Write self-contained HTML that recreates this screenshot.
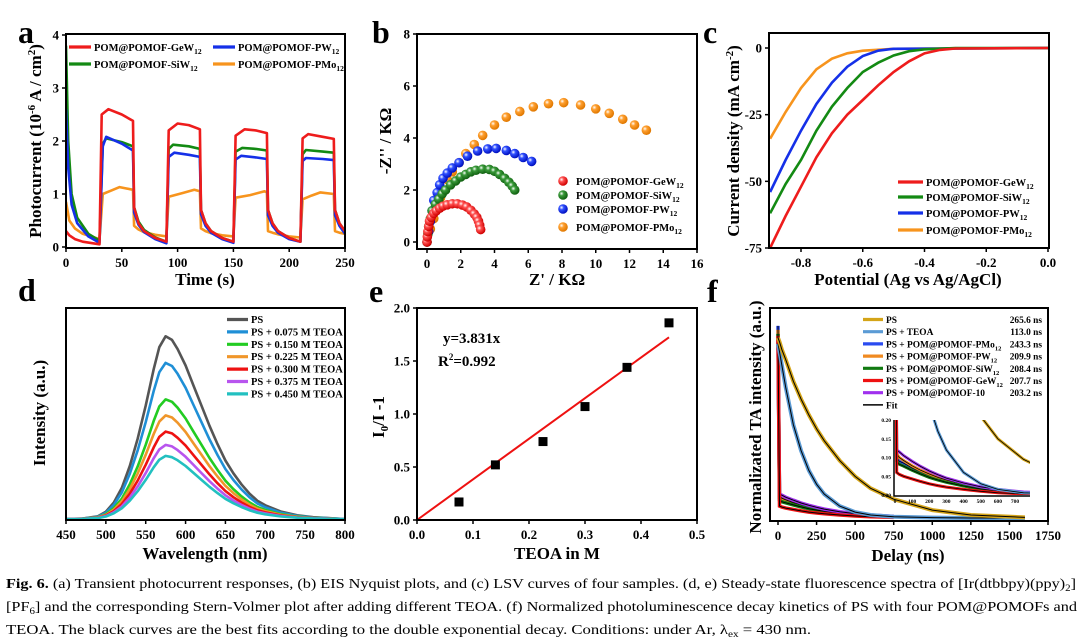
<!DOCTYPE html>
<html><head><meta charset="utf-8">
<style>
html,body{margin:0;padding:0;background:#fff;}
svg{display:block;font-family:"Liberation Serif",serif;}
.tk{font-size:13px;font-weight:bold;}
.tt{font-size:17px;font-weight:bold;}
.lg{font-size:10.5px;font-weight:bold;}
.lf{font-size:9.4px;font-weight:bold;}
.pl{font-size:32px;font-weight:bold;}
.cap{font-size:13.4px;}
</style></head>
<body>
<svg id="fig" width="1080" height="642" viewBox="0 0 1080 642" xmlns="http://www.w3.org/2000/svg">
<defs>
<radialGradient id="gr" cx="35%" cy="35%" r="65%"><stop offset="0" stop-color="#fff"/><stop offset="0.35" stop-color="#ff5050"/><stop offset="1" stop-color="#d00000"/></radialGradient>
<radialGradient id="gg" cx="35%" cy="35%" r="65%"><stop offset="0" stop-color="#fff"/><stop offset="0.35" stop-color="#3a9a3a"/><stop offset="1" stop-color="#106010"/></radialGradient>
<radialGradient id="gb" cx="35%" cy="35%" r="65%"><stop offset="0" stop-color="#fff"/><stop offset="0.35" stop-color="#3050ff"/><stop offset="1" stop-color="#0010c0"/></radialGradient>
<radialGradient id="go" cx="35%" cy="35%" r="65%"><stop offset="0" stop-color="#fff"/><stop offset="0.35" stop-color="#ffa030"/><stop offset="1" stop-color="#e07800"/></radialGradient>
<clipPath id="clipA"><rect x="66" y="34" width="279" height="214"/></clipPath>
<clipPath id="clipC"><rect x="769" y="33" width="280" height="215"/></clipPath>
<clipPath id="clipF"><rect x="770" y="308" width="278" height="213"/></clipPath>
<clipPath id="clipI"><rect x="894" y="420" width="136" height="75"/></clipPath>
</defs>
<g id="root"></g>
<g>
<text class="cap" x="6" y="588" textLength="1070" lengthAdjust="spacingAndGlyphs"><tspan font-weight="bold">Fig. 6.</tspan>  (a) Transient photocurrent responses, (b) EIS Nyquist plots, and (c) LSV curves of four samples. (d, e) Steady-state fluorescence spectra of [Ir(dtbbpy)(ppy)<tspan font-size="9" dy="3">2</tspan><tspan dy="-3">]</tspan></text>
<text class="cap" x="6" y="611" textLength="1071" lengthAdjust="spacingAndGlyphs">[PF<tspan font-size="9" dy="3">6</tspan><tspan dy="-3">] and the corresponding Stern-Volmer plot after adding different TEOA. (f) Normalized photoluminescence decay kinetics of PS with four POM@POMOFs and</tspan></text>
<text class="cap" x="6" y="634" textLength="805" lengthAdjust="spacingAndGlyphs">TEOA. The black curves are the best fits according to the double exponential decay. Conditions: under Ar, λ<tspan font-size="9" dy="3">ex</tspan><tspan dy="-3"> = 430 nm.</tspan></text>
</g>
</svg>
<script>
// ---------- Panel a data ----------
const aTimes = {
 red:   [0,3,8,15,30,32,38,50,60,61,65,70,80,90,92,100,110,120,121,125,130,140,150,152,160,170,180,181,185,190,200,210,212,217,230,240,241,245,250],
 green: [0,2,5,10,20,30,33,36,50,60,61,65,70,80,90,92,96,110,120,121,125,130,140,150,152,158,170,180,181,185,190,200,210,212,215,230,240,241,245,250],
 blue:  [0,2,5,10,20,30,33,36,50,60,61,65,70,80,90,92,97,110,120,121,125,130,140,150,152,157,170,180,181,185,190,200,210,212,215,230,240,241,245,250],
 orange:[0,3,8,15,30,33,40,48,60,61,65,70,80,90,92,105,115,120,121,125,130,140,150,152,165,178,180,181,185,190,200,210,212,220,228,240,241,245,250]
};
const aValues = {
 red:   [0.3,0.22,0.15,0.1,0.05,2.5,2.6,2.5,2.38,0.75,0.45,0.3,0.17,0.1,2.2,2.33,2.3,2.22,0.7,0.45,0.3,0.17,0.1,2.1,2.22,2.2,2.15,0.7,0.45,0.3,0.17,0.1,2.05,2.13,2.08,2.04,0.7,0.45,0.3],
 green: [3.8,2.0,1.0,0.55,0.25,0.12,1.95,2.05,1.98,1.9,0.75,0.48,0.32,0.18,0.1,1.85,1.93,1.9,1.85,0.7,0.45,0.3,0.17,0.1,1.8,1.87,1.85,1.82,0.7,0.45,0.3,0.17,0.1,1.75,1.83,1.8,1.78,0.7,0.45,0.3],
 blue:  [2.6,1.5,0.8,0.45,0.2,0.08,1.9,2.08,1.95,1.82,0.65,0.42,0.28,0.15,0.07,1.7,1.78,1.74,1.7,0.62,0.4,0.27,0.15,0.08,1.65,1.72,1.69,1.66,0.6,0.4,0.27,0.15,0.1,1.62,1.68,1.66,1.64,0.6,0.4,0.25],
 orange:[0.85,0.5,0.35,0.25,0.15,1.0,1.06,1.13,1.08,0.4,0.33,0.28,0.23,0.2,0.95,1.02,1.08,1.05,0.35,0.3,0.26,0.22,0.2,0.93,0.98,1.05,1.03,0.3,0.27,0.24,0.2,0.18,0.9,0.97,1.03,1.0,0.3,0.27,0.25]
};
const aTicksX = [0,50,100,150,200,250];
const aTicksY = [0,1,2,3,4];
// ---------- Panel b data ----------
const bRe = {
 red:[0,0.02,0.05,0.1,0.15,0.25,0.4,0.55,0.75,0.95,1.2,1.5,1.8,2.1,2.35,2.6,2.8,2.95,3.05,3.12,3.18],
 green:[0,0.05,0.1,0.2,0.3,0.5,0.7,0.9,1.1,1.4,1.7,2.0,2.3,2.6,2.9,3.3,3.7,4.0,4.3,4.6,4.85,5.05,5.2],
 blue:[0,0.1,0.2,0.3,0.4,0.6,0.75,0.95,1.2,1.5,1.9,2.4,3.0,3.6,4.1,4.7,5.2,5.7,6.2],
 orange:[0,0.2,0.4,0.6,0.8,1.0,1.2,1.5,1.9,2.3,2.8,3.3,4.0,4.7,5.5,6.3,7.2,8.1,9.1,10.0,10.8,11.6,12.3,13.0]
};
const bIm = {
 red:[0,0.2,0.4,0.6,0.8,0.95,1.1,1.2,1.3,1.38,1.43,1.47,1.47,1.42,1.35,1.22,1.08,0.95,0.8,0.65,0.48],
 green:[0,0.3,0.6,0.9,1.2,1.45,1.65,1.85,2.0,2.2,2.35,2.5,2.6,2.7,2.76,2.8,2.79,2.72,2.6,2.45,2.3,2.15,2.0],
 blue:[0,0.4,0.8,1.2,1.6,1.9,2.2,2.45,2.65,2.85,3.05,3.3,3.5,3.58,3.6,3.52,3.4,3.25,3.1],
 orange:[0,0.5,0.9,1.3,1.7,2.0,2.4,2.7,3.05,3.4,3.75,4.1,4.5,4.8,5.02,5.2,5.32,5.36,5.27,5.12,4.95,4.72,4.5,4.3]
};
const bTicksX = [0,2,4,6,8,10,12,14,16];
const bTicksY = [0,2,4,6,8];
// ---------- Panel c data ----------
const cPot = {
 red:[-0.9,-0.85,-0.8,-0.75,-0.7,-0.65,-0.6,-0.55,-0.5,-0.45,-0.4,-0.35,-0.3,0],
 green:[-0.9,-0.85,-0.8,-0.75,-0.7,-0.65,-0.6,-0.55,-0.5,-0.45,-0.4,-0.3,0],
 blue:[-0.9,-0.85,-0.8,-0.75,-0.7,-0.65,-0.6,-0.55,-0.5,0],
 orange:[-0.9,-0.85,-0.8,-0.75,-0.7,-0.65,-0.6,-0.5,0]
};
const cCur = {
 red:[-75,-63,-52,-41,-32,-25,-19.5,-14,-9,-5,-2,-0.7,-0.2,0],
 green:[-62,-51,-42,-31,-22,-15,-9,-5.5,-2.8,-1.2,-0.5,0,0],
 blue:[-54,-42,-31,-21,-13,-7,-3,-1,-0.3,0],
 orange:[-34,-24,-15,-8,-4,-2,-1,-0.3,0]
};
const cTicksX = [-0.8,-0.6,-0.4,-0.2,0.0];
const cTicksY = [0,-25,-50,-75];
// ---------- Panel d data ----------
const dWave = [450,470,490,500,510,520,530,540,550,560,567,575,583,590,600,610,620,630,640,650,660,670,680,690,700,720,740,760,800];
const dShape = [0,0.002,0.015,0.04,0.09,0.17,0.29,0.44,0.62,0.82,0.94,1,0.98,0.93,0.84,0.73,0.62,0.51,0.41,0.32,0.25,0.19,0.14,0.1,0.075,0.04,0.02,0.01,0];
const dPeaks = [0.866,0.74,0.567,0.491,0.414,0.351,0.299];
const dNames = ['PS','PS + 0.075 M TEOA','PS + 0.150 M TEOA','PS + 0.225 M TEOA','PS + 0.300 M TEOA','PS + 0.375 M TEOA','PS + 0.450 M TEOA'];
const dTicksX = [450,500,550,600,650,700,750,800];
// ---------- Panel e data ----------
const eConc = [0.075,0.14,0.225,0.3,0.375,0.45];
const eRatio = [0.17,0.52,0.74,1.07,1.44,1.86];
const eSlope = 3.831;
const eTicksX = [0.0,0.1,0.2,0.3,0.4,0.5];
const eTicksY = [0.0,0.5,1.0,1.5,2.0];
// ---------- Panel f data ----------
const fTimes = [0,10,25,50,100,150,200,250,300,400,500,600,750,1000,1250,1600];
const fPS   = [0.91,0.89,0.85,0.80,0.69,0.60,0.52,0.45,0.39,0.29,0.21,0.15,0.095,0.04,0.015,0.003];
const fTEOA = [0.88,0.84,0.77,0.66,0.47,0.34,0.24,0.17,0.12,0.06,0.03,0.015,0.006,0.002,0,0];
const fPMo  = [0.97,0.10,0.09,0.085,0.072,0.062,0.052,0.044,0.037,0.026,0.018,0.012,0.007,0.003,0,0];
const fPW   = [0.95,0.11,0.10,0.092,0.078,0.066,0.056,0.047,0.04,0.028,0.019,0.013,0.007,0.003,0,0];
const fSiW  = [0.93,0.09,0.082,0.077,0.066,0.056,0.047,0.04,0.034,0.024,0.016,0.011,0.006,0.002,0,0];
const fGeW  = [0.92,0.06,0.055,0.05,0.043,0.036,0.03,0.025,0.021,0.015,0.01,0.006,0.003,0.001,0,0];
const f10   = [0.9,0.12,0.115,0.105,0.09,0.076,0.064,0.054,0.045,0.032,0.022,0.015,0.008,0.003,0,0];
const fLife = ['265.6 ns','113.0 ns','243.3 ns','209.9 ns','208.4 ns','207.7 ns','203.2 ns'];
const fTicksX = [0,250,500,750,1000,1250,1500,1750];
const fInsetTicksX = [0,100,200,300,400,500,600,700];
const fInsetTicksY = [0.00,0.05,0.10,0.15,0.20];

const NS='http://www.w3.org/2000/svg';
const root=document.getElementById('root');
function mk(tag,attrs,parent){const e=document.createElementNS(NS,tag);for(const k in attrs)e.setAttribute(k,attrs[k]);(parent||root).appendChild(e);return e;}
function txt(s,x,y,cls,anchor,parent){const t=mk('text',{x:x,y:y,class:cls,'text-anchor':anchor||'middle'},parent);t.textContent=s;return t;}
function lin(d0,d1,r0,r1){return v=>r0+(v-d0)/(d1-d0)*(r1-r0);}
function pathD(xs,ys,sx,sy){return xs.map((v,i)=>(i?'L':'M')+sx(v).toFixed(1)+','+sy(ys[i]).toFixed(1)).join('');}
function frame(x0,y0,x1,y1,name){const r=mk('rect',{x:x0,y:y0,width:x1-x0,height:y1-y0,fill:'none',stroke:'#000','stroke-width':2});}
function xTicks(ticks,sx,yb,fmt,cls,len,gap){const g=mk('g',{});
 ticks.forEach(v=>{mk('line',{x1:sx(v),x2:sx(v),y1:yb,y2:yb+(len||4),stroke:'#000','stroke-width':1.5},g);txt(fmt(v),sx(v),yb+(gap||19),cls||'tk','middle',g);});}
function yTicks(ticks,sy,xl,fmt,cls,len,gap){const g=mk('g',{});
 ticks.forEach(v=>{mk('line',{x1:xl-(len||4),x2:xl,y1:sy(v),y2:sy(v),stroke:'#000','stroke-width':1.5},g);txt(fmt(v),xl-(gap||7),sy(v)+4.5,cls||'tk','end',g);});}
function ytitle(html,x,y,name){const t=mk('text',{x:0,y:0,class:'tt','text-anchor':'middle',transform:`translate(${x},${y}) rotate(-90)`});t.innerHTML=html;}
function xtitle(html,x,y,name){const t=mk('text',{x:x,y:y,class:'tt','text-anchor':'middle'});t.innerHTML=html;}
function plabel(s,x,y){const t=txt(s,x,y,'pl','start');}
const SUB12='<tspan font-size="7.5" dy="3">12</tspan>';
const colors={red:'#ee1c1c',green:'#138a13',blue:'#1530e8',orange:'#f7941d'};
const names={red:'POM@POMOF-GeW',green:'POM@POMOF-SiW',blue:'POM@POMOF-PW',orange:'POM@POMOF-PMo'};

// ===== Panel a =====
{const sx=lin(0,250,66,345), sy=lin(0,4,247,35);
 const g=mk('g',{'clip-path':'url(#clipA)'});
 ['orange','green','blue','red'].forEach(k=>{const p=mk('path',{d:pathD(aTimes[k],aValues[k],sx,sy),fill:'none',stroke:colors[k],'stroke-width':2.6,'stroke-linejoin':'round'},g);});
 frame(66,34,345,248,'plot-frame-a');
 xTicks(aTicksX,sx,248,v=>v);yTicks(aTicksY,sy,66,v=>v);
 const lg=[['red',69,51],['blue',213,51],['green',69,68],['orange',213,68]];
 lg.forEach(([k,x,y])=>{const gg=mk('g',{});
  mk('line',{x1:x,x2:x+22,y1:y-4,y2:y-4,stroke:colors[k],'stroke-width':3.2},gg);const t=txt('',x+25,y,'lg','start',gg);t.innerHTML=names[k]+SUB12;});
 plabel('a',18,43);
 ytitle('Photocurrent (10<tspan font-size="11" dy="-6">-6</tspan><tspan dy="6"> A / cm</tspan><tspan font-size="11" dy="-6">2</tspan><tspan dy="6">)</tspan>',41,141,'y-axis-title-a');
 xtitle('Time (s)',205,285,'x-axis-title-a');}

// ===== Panel b =====
{const sx=lin(0,16,427,697), sy=lin(0,8,242,34);
 const g=mk('g',{});
 const grad={red:'gr',green:'gg',blue:'gb',orange:'go'};
 ['orange','blue','green','red'].forEach(k=>{bRe[k].forEach((v,i)=>{const c=mk('circle',{cx:sx(v),cy:sy(bIm[k][i]),r:4.8,fill:`url(#${grad[k]})`},g);});});
 frame(417,34,697,249,'plot-frame-b');
 xTicks(bTicksX,sx,249,v=>v);yTicks(bTicksY,sy,417,v=>v);
 const ys=[185,199,213,231],ks=['red','green','blue','orange'],sfx=['GeW','SiW','PW','PMo'];
 ks.forEach((k,i)=>{const gg=mk('g',{});
  mk('circle',{cx:563,cy:ys[i]-4,r:4.8,fill:`url(#${grad[k]})`},gg);const t=txt('',576,ys[i],'lg','start',gg);t.innerHTML='POM@POMOF-'+sfx[i]+SUB12;});
 plabel('b',372,43);
 ytitle("-Z'' / KΩ",391,141,'y-axis-title-b');
 xtitle("Z' / KΩ",557,285,'x-axis-title-b');}

// ===== Panel c =====
{const sx=lin(-0.8,0,801,1048), sy=lin(0,-75,48,248);
 const g=mk('g',{'clip-path':'url(#clipC)'});
 ['orange','blue','green','red'].forEach(k=>{const p=mk('path',{d:pathD(cPot[k],cCur[k],sx,sy),fill:'none',stroke:colors[k],'stroke-width':2.6},g);});
 frame(769,33,1049,248,'plot-frame-c');
 xTicks(cTicksX,sx,248,v=>v.toFixed(1));yTicks(cTicksY,sy,769,v=>v);
 const ys=[186,201,217,234],ks=['red','green','blue','orange'],sfx=['GeW','SiW','PW','PMo'];
 ks.forEach((k,i)=>{const gg=mk('g',{});
  mk('line',{x1:898,x2:923,y1:ys[i]-4,y2:ys[i]-4,stroke:colors[k],'stroke-width':3.2},gg);const t=txt('',926,ys[i],'lg','start',gg);t.innerHTML='POM@POMOF-'+sfx[i]+SUB12;});
 plabel('c',703,43);
 ytitle('Current density (mA cm<tspan font-size="11" dy="-6">-2</tspan><tspan dy="6">)</tspan>',739,141,'y-axis-title-c');
 xtitle('Potential (Ag vs Ag/AgCl)',908,285,'x-axis-title-c');}

// ===== Panel d =====
{const sx=lin(450,800,66,345), sy=lin(0,1,519,308);
 const dCols=['#555555','#1f8fd6','#22cc22','#f0962a','#ee1111','#b855ee','#22c0c0'];
 const g=mk('g',{});
 dPeaks.forEach((pk,i)=>{const p=mk('path',{d:pathD(dWave,dShape.map(s=>s*pk),sx,sy),fill:'none',stroke:dCols[i],'stroke-width':2.6,'stroke-linejoin':'round'},g);});
 frame(66,308,345,520,'plot-frame-d');
 xTicks(dTicksX,sx,520,v=>v);
 dNames.forEach((n,i)=>{const y=323+i*12.4;const gg=mk('g',{});
  mk('line',{x1:227,x2:248,y1:y-3.5,y2:y-3.5,stroke:dCols[i],'stroke-width':3.2},gg);txt(n,251,y,'lg','start',gg);});
 plabel('d',18,301);
 ytitle('Intensity (a.u.)',45,413,'y-axis-title-d');
 xtitle('Wavelength (nm)',205,559,'x-axis-title-d');}

// ===== Panel e =====
{const sx=lin(0,0.5,417,697), sy=lin(0,2,520,308);
 const fit=mk('line',{x1:sx(0),y1:sy(0),x2:sx(eConc[eConc.length-1]),y2:sy(eSlope*eConc[eConc.length-1]),stroke:'#ee1111','stroke-width':2});
 
 eConc.forEach((c,i)=>{const r=mk('rect',{x:sx(c)-4.5,y:sy(eRatio[i])-4.5,width:9,height:9,fill:'#000'});});
 frame(417,308,697,520,'plot-frame-e');
 xTicks(eTicksX,sx,520,v=>v.toFixed(1));yTicks(eTicksY,sy,417,v=>v.toFixed(1));
 const t1=txt('y=3.831x',443,343,'tt','start');t1.style.fontSize='15px';
 const t2=txt('',438,366,'tt','start');t2.style.fontSize='15px';t2.innerHTML='R<tspan font-size="9" dy="-6">2</tspan><tspan dy="6">=0.992</tspan>';
 plabel('e',369,302);
 ytitle('I<tspan font-size="11" dy="4">0</tspan><tspan dy="-4">/I -1</tspan>',384,417,'y-axis-title-e');
 xtitle('TEOA in M',557,559,'x-axis-title-e');}

// ===== Panel f =====
{const sx=lin(0,1750,778,1048), sy=lin(0,1,518,320);
 const fCols=['#d4a418','#5b9bd5','#2a4bf0','#f08a20','#117a11','#ee1111','#a030ee'];
 const series=[fPS,fTEOA,fPMo,fPW,fSiW,fGeW,f10];
 const fLabels=['PS','PS + TEOA','PS + POM@POMOF-PMo','PS + POM@POMOF-PW','PS + POM@POMOF-SiW','PS + POM@POMOF-GeW','PS + POM@POMOF-10'];
 const g=mk('g',{'clip-path':'url(#clipF)'});
 const order=[2,3,4,6,5,1,0];
 order.forEach(i=>{const n=(i<2)?fTimes.length:fTimes.length-3;const xs=fTimes.slice(0,n),ys=series[i].slice(0,n);
  const p=mk('path',{d:pathD(xs,ys,sx,sy),fill:'none',stroke:fCols[i],'stroke-width':i<2?4:3.5},g);
  const q=mk('path',{d:pathD(fTimes,series[i],sx,sy),fill:'none',stroke:'#000','stroke-width':1},g);});
 frame(770,308,1048,521,'plot-frame-f');
 xTicks(fTicksX,sx,521,v=>v);
 // inset
 const ix=lin(0,700,895,1015), iy=lin(0,0.2,495,420);
 const ig=mk('g',{});
 mk('rect',{x:893,y:418,width:138,height:78,fill:'#fff'},ig);
 const ic=mk('g',{'clip-path':'url(#clipI)'},ig);
 order.forEach(i=>{mk('path',{d:pathD(fTimes,series[i],ix,iy),fill:'none',stroke:fCols[i],'stroke-width':3},ic);mk('path',{d:pathD(fTimes,series[i],ix,iy),fill:'none',stroke:'#000','stroke-width':0.8},ic);});
 mk('path',{d:'M894,420 L894,496 L1030,496',fill:'none',stroke:'#000','stroke-width':1.5},ig);
 fInsetTicksX.forEach(v=>{txt(v,ix(v),503,'lg','middle',ig).style.fontSize='5.5px';});
 fInsetTicksY.forEach(v=>{txt(v.toFixed(2),891,iy(v)+2,'lg','end',ig).style.fontSize='5.5px';});
 fLabels.forEach((n,i)=>{const y=323+i*12.2;const gg=mk('g',{});
  mk('line',{x1:863,x2:883,y1:y-3.5,y2:y-3.5,stroke:fCols[i],'stroke-width':3.2},gg);const t=txt('',886,y,'lf','start',gg);t.innerHTML=n+(i>=2&&i<=5?'<tspan font-size="6.5" dy="3">12</tspan>':'');txt(fLife[i],1042,y,'lf','end',gg);});
 {const y=323+7*12.2;const gg=mk('g',{});
  mk('line',{x1:863,x2:883,y1:y-3.5,y2:y-3.5,stroke:'#000','stroke-width':1.5},gg);txt('Fit',886,y,'lf','start',gg);}
 plabel('f',707,302);
 ytitle('Normalizated TA intensity (a.u.)',761,417,'y-axis-title-f');
 xtitle('Delay (ns)',908,561,'x-axis-title-f');}
</script>
</body></html>
